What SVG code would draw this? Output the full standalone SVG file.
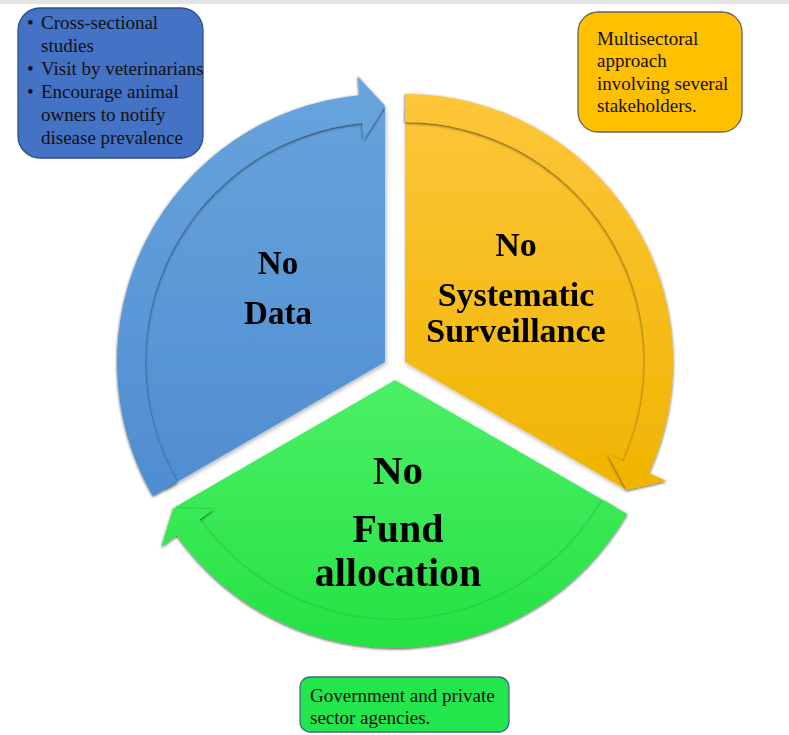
<svg xmlns="http://www.w3.org/2000/svg" width="789" height="735" viewBox="0 0 789 735">
<defs>
  <linearGradient id="gBlue" gradientUnits="userSpaceOnUse" x1="0" y1="76" x2="0" y2="500">
    <stop offset="0" stop-color="#68a4dd"/>
    <stop offset="1" stop-color="#4f8dd0"/>
  </linearGradient>
  <linearGradient id="gYellow" gradientUnits="userSpaceOnUse" x1="0" y1="94" x2="0" y2="495">
    <stop offset="0" stop-color="#fdc63a"/>
    <stop offset="1" stop-color="#f0b400"/>
  </linearGradient>
  <linearGradient id="gGreen" gradientUnits="userSpaceOnUse" x1="0" y1="380" x2="0" y2="650">
    <stop offset="0" stop-color="#4cef67"/>
    <stop offset="1" stop-color="#24e242"/>
  </linearGradient>
  <filter id="soft" x="-10%" y="-10%" width="120%" height="120%">
    <feDropShadow dx="1" dy="2" stdDeviation="2" flood-color="#000" flood-opacity="0.3"/>
  </filter>
  <filter id="band" x="-10%" y="-10%" width="120%" height="120%">
    <feDropShadow dx="0" dy="1" stdDeviation="1.4" flood-color="#000" flood-opacity="0.7"/>
  </filter>
</defs>
<style>
  .big { font-family: "Liberation Serif", "Times New Roman", serif; font-weight: bold; fill: #000; text-anchor: middle; }
  .note { font-family: "Liberation Serif", "Times New Roman", serif; font-size: 19px; fill: #111; }
  .bul { font-family: "Liberation Serif", "Times New Roman", serif; font-size: 19px; fill: #111; }
  .box { stroke-width: 1.3; }
</style>
<rect x="0" y="0" width="789" height="4" fill="#e4e4e4"/>

<g id="node-data" filter="url(#soft)">
  <path d="M385,362 L165,489 A254,254 0 0 1 385,108 Z" fill="url(#gBlue)"/>
  <text class="big" font-size="33" x="278" y="274">No</text>
  <text class="big" font-size="33" x="278" y="324">Data</text>
</g>
<g id="node-surveillance" filter="url(#soft)">
  <path d="M405,362 L405,108 A254,254 0 0 1 625,489 Z" fill="url(#gYellow)"/>
  <text class="big" font-size="34" x="516" y="256">No</text>
  <text class="big" font-size="34" x="516" y="306">Systematic</text>
  <text class="big" font-size="34" x="516" y="342">Surveillance</text>
</g>
<g id="node-fund" filter="url(#soft)">
  <path d="M395,380 L615,507 A254,254 0 0 1 175,507 Z" fill="url(#gGreen)"/>
  <text class="big" font-size="41" x="398" y="484">No</text>
  <text class="big" font-size="40" x="398" y="542">Fund</text>
  <text class="big" font-size="40" x="398" y="586">allocation</text>
</g>

<g id="connectors" filter="url(#band)">
  <path d="M152.9,496 A268,268 0 0 1 359.3,95.2 L357.5,76.3 L385,106 L363.6,140 L362,123.1 A240,240 0 0 0 177.2,482 Z" fill="url(#gBlue)"/>
  <path d="M405,94 A268,268 0 0 1 648.9,473.1 L666.2,481 L626.7,490 L607.9,454.5 L623.4,461.5 A240,240 0 0 0 405,122 Z" fill="url(#gYellow)"/>
  <path d="M627.1,514 A268,268 0 0 1 176.8,535.6 L161.3,546.7 L173.3,508 L213.5,509.5 L199.6,519.4 A240,240 0 0 0 602.8,500 Z" fill="url(#gGreen)"/>
</g>

<g id="box-data">
  <rect class="box" x="18" y="8" width="185" height="150" rx="22" fill="#4472c4" stroke="#2f4f8f"/>
  <text class="bul" x="27" y="29">•</text>
  <text class="note" x="41" y="29">Cross-sectional</text>
  <text class="note" x="41" y="52">studies</text>
  <text class="bul" x="27" y="75">•</text>
  <text class="note" x="41" y="75">Visit by veterinarians</text>
  <text class="bul" x="27" y="98">•</text>
  <text class="note" x="41" y="98">Encourage animal</text>
  <text class="note" x="41" y="121">owners to notify</text>
  <text class="note" x="41" y="144">disease prevalence</text>
</g>
<g id="box-surveillance">
  <rect class="box" x="578" y="12" width="164" height="120" rx="20" fill="#ffc000" stroke="#66645e"/>
  <text class="note" x="597" y="45">Multisectoral</text>
  <text class="note" x="597" y="67">approach</text>
  <text class="note" x="597" y="90">involving several</text>
  <text class="note" x="597" y="112">stakeholders.</text>
</g>
<g id="box-fund">
  <rect class="box" x="300" y="677" width="209" height="55" rx="10" fill="#22e64b" stroke="#3a6f8c"/>
  <text class="note" x="310" y="702">Government and private</text>
  <text class="note" x="310" y="724">sector agencies.</text>
</g>
</svg>
